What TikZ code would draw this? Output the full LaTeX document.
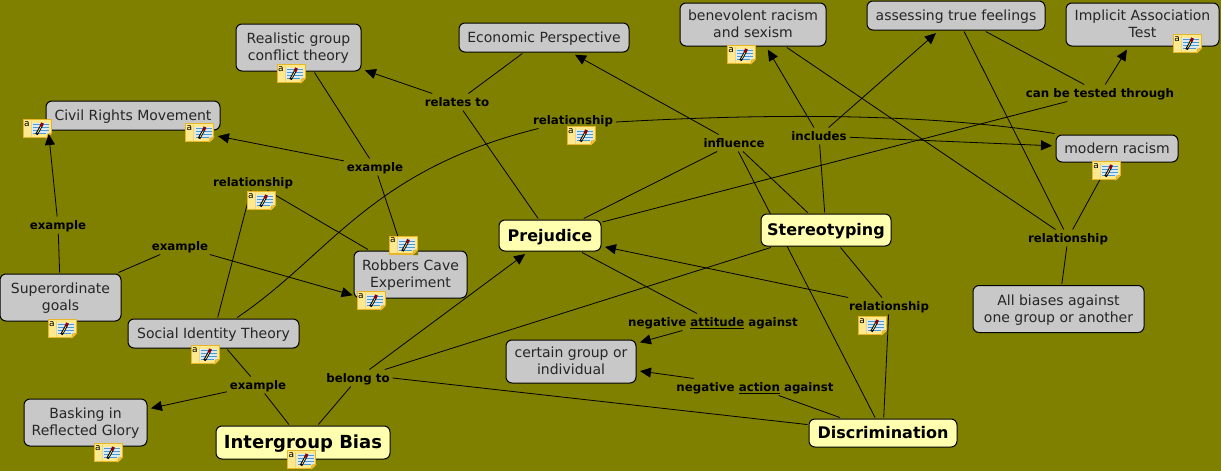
\documentclass[tikz,border=0pt]{standalone}
\usepackage{fontspec}
\setmainfont{DejaVu Sans}
\usetikzlibrary{arrows.meta, positioning, backgrounds}
\definecolor{mapback}{HTML}{808000}
\definecolor{boxgrey}{HTML}{C8C8C8}
\definecolor{boxyellow}{HTML}{FFFFAF}
\definecolor{notegold}{HTML}{E8B428}
\definecolor{notefill}{HTML}{FFE98E}
\definecolor{noteblue}{HTML}{4A9AD0}
\newcommand{\notedrawing}[1]{%
  \begin{scope}[shift={(#1.north west)}, xshift=2pt, yshift=-2pt, line width=.5pt]
    \fill[white!80!noteblue] (9,3) rectangle (26,14);
    \draw[noteblue, line width=.9pt] (10,5) -- (26,5) (10,8) -- (26,8) (10,11) -- (26,11) (10,14) -- (23,14);
    \draw[notegold!60!white] (8,1) -- (8,17);
    \node[inner sep=0pt, font=\fontsize{9}{9}\selectfont] (notea) at (4,4.5) {a};
    \draw[black, line width=2.6pt] (13.5,15) -- (18,7);
    \draw[notefill, line width=.7pt] (14.5,13.5) -- (18,7);
    \draw[red!55!black, line width=3pt] (18,7) -- (19.5,3.5);
    \draw[notegold, line width=1.6pt] (0,18) -- (24,18);
    \fill[mapback] (29,19) -- (29,14) -- (24,19) -- cycle;
    \draw[notegold, line width=1pt, fill=notefill!70!notegold] (28,14) -- (24.5,14.5) -- (24,18) -- cycle;
  \end{scope}}

\begin{document}
\begin{tikzpicture}[
  x=1pt, y=-1pt,
  >={Triangle[length=11pt,width=10pt]},
  line width=1pt,
  greybox/.style={rectangle, rounded corners=6pt, draw=black, fill=boxgrey, inner sep=0pt, outer sep=1.5pt, align=center, text=black!85, text depth=1pt, font=\fontsize{14}{17}\selectfont},
  onerow/.style={greybox, minimum height=29pt},
  tworow/.style={greybox, minimum height=47pt},
  yellowbox/.style={rectangle, rounded corners=6pt, draw=black, fill=boxyellow, inner sep=0pt, outer sep=1.5pt, align=center, text depth=1pt, font=\fontsize{16}{18}\selectfont\bfseries},
  linkword/.style={inner sep=0pt, outer xsep=3pt, outer ysep=0pt, minimum height=17pt, text height=10pt, text depth=1pt, font=\fontsize{11.8}{14}\selectfont\bfseries},
  link/.style={draw=black, line width=.8pt},
  linkto/.style={link, ->, shorten >=2.5pt},
  noteicon/.style={rectangle, draw=notegold, line width=1pt, fill=notefill, minimum width=28pt, minimum height=18pt, inner sep=0pt, outer sep=2pt}
]
\useasboundingbox (0,0) rectangle (1221,471);
% -------------------------------------------------------------------------
% CONCEPTS
% -------------------------------------------------------------------------
\begin{scope}[on background layer]
\fill[mapback] (0,0) rectangle (1221,471);
\end{scope}
\node[yellowbox, minimum width=102pt, minimum height=31pt] (prejudice) at (550,235.5) {Prejudice};
\node[yellowbox, minimum width=130pt, minimum height=32pt] (stereotyping) at (826,230) {Stereotyping};
\node[yellowbox, minimum width=148pt, minimum height=28pt] (discrimination) at (883,433) {Discrimination};
\node[yellowbox, minimum width=174pt, minimum height=33pt, font=\fontsize{18}{20}\selectfont\bfseries] (intergroup) at (303,442.5) {Intergroup Bias};
\node[tworow, minimum width=125pt] (realistic) at (298.5,47.5) {Realistic group\\conflict theory};
\node[onerow, minimum width=174pt] (civil) at (133,115.5) {Civil Rights Movement};
\node[onerow, minimum width=170pt] (economic) at (544,37.5) {Economic Perspective};
\node[greybox, minimum width=146pt, minimum height=43pt] (benevolent) at (753,24.5) {benevolent racism\\and sexism};
\node[onerow, minimum width=178pt] (assessing) at (956,15.5) {assessing true feelings};
\node[greybox, minimum width=153pt, minimum height=43pt] (implicit) at (1142.5,24.5) {Implicit Association\\Test};
\node[greybox, minimum width=122pt, minimum height=27pt] (modern) at (1117,148.5) {modern racism};
\node[tworow, minimum width=171pt] (allbiases) at (1058.5,309) {All biases against\\one group or another};
\node[greybox, minimum width=130pt, minimum height=43pt] (certain) at (571,361.5) {certain group or\\individual};
\node[tworow, minimum width=121pt] (superordinate) at (60.5,297.5) {Superordinate\\goals};
\node[tworow, minimum width=113pt] (robbers) at (410.5,274.5) {Robbers Cave\\Experiment};
\node[onerow, minimum width=171pt] (social) at (213.5,333.5) {Social Identity Theory};
\node[tworow, minimum width=123pt] (basking) at (85.5,422.5) {Basking in\\Reflected Glory};
% -------------------------------------------------------------------------
% LINKING WORDS
% -------------------------------------------------------------------------
\node[linkword] (relatesto) at (457,102) {relates to};
\node[linkword] (reltop) at (573,120) {relationship};
\node[linkword] (relleft) at (253,182) {relationship};
\node[linkword] (relright) at (1068,238) {relationship};
\node[linkword] (rellower) at (889,306) {relationship};
\node[linkword] (excivil) at (375,167) {example};
\node[linkword] (exsuper) at (58,225) {example};
\node[linkword] (exrobbers) at (180,246) {example};
\node[linkword] (exbasking) at (258,385) {example};
\node[linkword] (belongto) at (358,378) {belong to};
\node[linkword] (influence) at (734,143) {influence};
\node[linkword] (includes) at (819,136) {includes};
\node[linkword] (tested) at (1100,93) {can be tested through};
\node[linkword] (attitude) at (713,322) {negative \underline{attitude} against};
\node[linkword] (action) at (755,387) {negative \underline{action} against};
% -------------------------------------------------------------------------
% NOTE ICONS
% -------------------------------------------------------------------------
\node[noteicon, below=-10pt of realistic, xshift=-7.5pt] (realisticnote) {};
\node[noteicon, below=-14pt of civil, xshift=-96pt] (civilnotea) {};
\node[noteicon, below=-10pt of civil, xshift=66.5pt] (civilnoteb) {};
\node[noteicon, below=-4pt of benevolent, xshift=-12pt] (benevolentnote) {};
\node[noteicon, below=-15pt of implicit, xshift=44.5pt] (implicitnote) {};
\node[noteicon, below=-4pt of modern, xshift=-11pt] (modernnote) {};
\node[noteicon, below=-5pt of superordinate, xshift=1.5pt] (superordinatenote) {};
\node[noteicon, below=-10pt of robbers, xshift=-39.5pt] (robbersnotea) {};
\node[noteicon, above=-6.5pt of robbers, xshift=-7.5pt] (robbersnoteb) {};
\node[noteicon, below=-6pt of social, xshift=-8.5pt] (socialnote) {};
\node[noteicon, below=-6pt of basking, xshift=22.5pt] (baskingnote) {};
\node[noteicon, below=-12pt of intergroup, xshift=-1.5pt] (intergroupnote) {};
\node[noteicon, below=-1pt of relleft, xshift=8pt] (relleftnote) {};
\node[noteicon, below=-4pt of reltop, xshift=8pt] (reltopnote) {};
\node[noteicon, below=0pt of rellower, xshift=-17pt] (rellowernote) {};
\foreach \icon in {realisticnote, civilnotea, civilnoteb, benevolentnote, implicitnote, modernnote, superordinatenote, robbersnotea, robbersnoteb, socialnote, baskingnote, intergroupnote, relleftnote, reltopnote, rellowernote} {
  \notedrawing{\icon}
}
% -------------------------------------------------------------------------
% PLAIN LINKS (behind the boxes and icons)
% -------------------------------------------------------------------------
\begin{scope}[on background layer]
\draw[link] (prejudice) -- (relatesto);
\draw[link] (relatesto) -- (economic);
\draw[link] (prejudice) -- (influence);
\draw[link] (stereotyping) -- (influence);
\draw[link] (discrimination) -- (influence);
\draw[link] (stereotyping) -- (includes);
\draw[link] (prejudice) -- (tested);
\draw[link] (assessing) -- (tested);
\draw[link] (assessing) -- (relright);
\draw[link] (benevolent) -- (relright);
\draw[link] (modern) -- (relright);
\draw[link] (allbiases) -- (relright);
\draw[link] (prejudice) -- (attitude);
\draw[link] (discrimination) -- (action);
\draw[link] (stereotyping) -- (rellower);
\draw[link] (discrimination) -- (rellower);
\draw[link] (intergroup) -- (belongto);
\draw[link] (stereotyping) -- (belongto);
\draw[link] (discrimination) -- (belongto.east);
\draw[link] (intergroup) -- (exbasking);
\draw[link] (social) -- (exbasking);
\draw[link] (superordinate) -- (exsuper);
\draw[link] (superordinate) -- (exrobbers);
\draw[link] (realistic) -- (excivil);
\draw[link] (robbers) -- (excivil);
\draw[link] (social) -- (relleft);
\draw[link] (robbers) -- (relleft);
\draw[link] (social) .. controls (330,255) and (370,170) .. (reltop);
\draw[link] ([yshift=-2pt]reltop.east) .. controls (760,114) and (920,112) .. (modern.north west);
\end{scope}
% -------------------------------------------------------------------------
% ARROWS
% -------------------------------------------------------------------------
\draw[linkto] (relatesto) -- (realistic);
\draw[linkto] (influence) -- (economic);
\draw[linkto] (includes) -- (benevolent);
\draw[linkto] (includes) -- (assessing);
\draw[linkto] (includes) -- (modern);
\draw[linkto] (tested) -- (implicit);
\draw[linkto] (attitude) -- (certain);
\draw[linkto] (action) -- (certain);
\draw[linkto] (rellower) -- (prejudice);
\draw[linkto] (belongto) -- (prejudice);
\draw[linkto] (exbasking) -- (basking);
\draw[linkto] (exsuper) -- ([xshift=4pt]civil.south west);
\draw[linkto] (excivil) -- (civilnoteb);
\draw[linkto] (exrobbers) -- (robbersnotea);
\end{tikzpicture}
\end{document}
